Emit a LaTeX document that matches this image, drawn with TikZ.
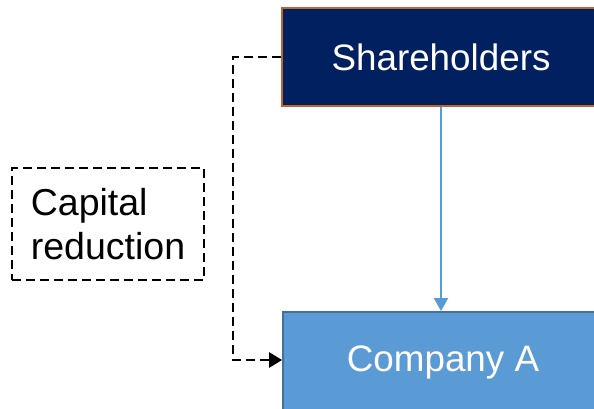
\documentclass[tikz,border=0pt]{standalone}
\usepackage{fontspec}
\setmainfont{Liberation Sans}
\usetikzlibrary{arrows.meta}
\definecolor{navy}{RGB}{0,32,96}
\definecolor{rust}{RGB}{190,100,45}
\definecolor{midblue}{RGB}{91,155,213}
\definecolor{edgeblue}{RGB}{65,113,156}
\tikzset{
  big/.style={font=\fontsize{36.8}{44}\selectfont},
  topbox/.style={big, draw=rust, line width=2.2pt, fill=navy, text=white, minimum width=318pt, minimum height=98pt, inner sep=0pt},
  botbox/.style={big, draw=edgeblue, line width=1.8pt, fill=midblue, text=white, minimum width=320pt, minimum height=100pt, inner sep=0pt},
  notebox/.style={font=\fontsize{37.5}{44}\selectfont, draw=black, line width=2.7pt, dash pattern=on 9pt off 5pt, align=left, minimum width=192pt, minimum height=112pt, inner xsep=17pt},
  flow/.style={midblue, line width=2pt, -{Triangle[length=13pt,width=14pt]}},
  dashlink/.style={black, line width=2.7pt, dash pattern=on 9pt off 5pt, -{Triangle[length=13pt,width=15pt]}}
}
\begin{document}
\begin{tikzpicture}[x=1pt,y=-1pt]
\useasboundingbox (0,0) rectangle (594,409);
\clip (0,0) rectangle (594,409);
\node[topbox] (sh) at (441,57) {Shareholders};
\node[botbox] (ca) at (443,362) {Company A};
\node[notebox] (cr) at (108,224) {Capital\\reduction};
\draw[flow] (sh.south) -- (sh.south |- ca.north);
\draw[dashlink] (sh.west) -- ++(-48,0) |- ([yshift=2pt]ca.west);
\end{tikzpicture}
\end{document}
